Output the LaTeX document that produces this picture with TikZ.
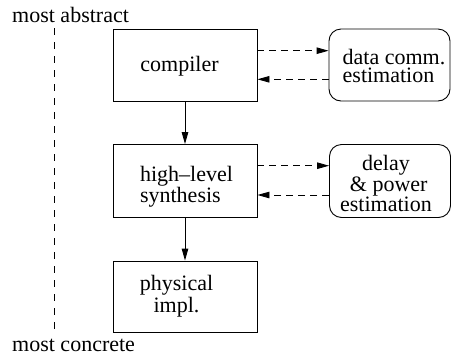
\documentclass[tikz,border=0pt]{standalone}
\usepackage{fontspec}
\setmainfont{Liberation Serif}
\usetikzlibrary{arrows.meta}
\tikzset{
  box/.style={draw, line width=0.9pt, inner sep=0pt},
  estbox/.style={box, rounded corners=12pt},
  lbl/.style={inner sep=0pt, font=\fontsize{22}{17.5}\selectfont},
  flow/.style={line width=0.9pt, -{Triangle[length=12pt,width=6.5pt]}},
  feedback/.style={flow, dash pattern=on 7pt off 5pt},
  axis/.style={line width=0.9pt, dash pattern=on 7pt off 7pt},
}
\begin{document}
\begin{tikzpicture}[x=1pt, y=-1pt]
  \useasboundingbox (0,0) rectangle (451,360);

  % design steps
  \node[box, minimum width=144pt, minimum height=72pt] (comp) at (185,65) {};
  \node[box, minimum width=144pt, minimum height=73pt] (hls) at (185,181) {};
  \node[box, minimum width=144pt, minimum height=71pt] (phys) at (185,296.5) {};

  % estimators
  \node[estbox, minimum width=121pt, minimum height=72pt] (dce) at (389.5,65) {};
  \node[estbox, minimum width=121pt, minimum height=73pt] (dpe) at (390,181) {};

  % labels
  \node[lbl, anchor=base] (tcomp) at (179.5,71.7) {compiler};
  \node[lbl, align=left] (tdce) at (394,65.8) {data comm.\\estimation};
  \node[lbl, align=left] (thls) at (186.5,186.9) {high--level\\synthesis};
  \node[lbl, align=center] (tdpe) at (386,183.5) {delay\\\ \& power\\estimation};
  \node[lbl, align=center] (tphys) at (176.5,296.2) {physical\\impl.};

  % abstraction axis
  \node[lbl, anchor=base west] (top) at (12,22) {most abstract};
  \node[lbl, anchor=base west] (bot) at (12,351.7) {most concrete};
  \coordinate (axA) at (54.3,28);
  \coordinate (axB) at (54.3,335);
  \draw[axis] (axA) -- (axB);

  % refinement flow
  \draw[flow] (comp) -- (hls);
  \draw[flow] (hls) -- (phys);

  % estimation loops
  \draw[feedback] (comp.east |- 0,50.7) -- (dce.west |- 0,50.7);
  \draw[feedback] (dce.west |- 0,79.3) -- (comp.east |- 0,79.3);
  \draw[feedback] (hls.east |- 0,165.7) -- (dpe.west |- 0,165.7);
  \draw[feedback] (dpe.west |- 0,195) -- (hls.east |- 0,195);
\end{tikzpicture}
\end{document}
